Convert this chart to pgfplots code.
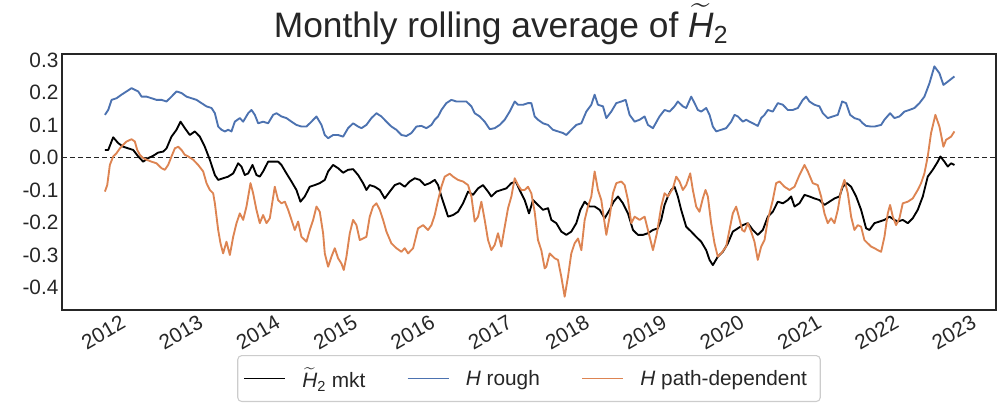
\documentclass[border=0pt]{standalone}
\usepackage{amsmath}
\usepackage{fontspec}
\setmainfont{Liberation Sans}
\usepackage{pgfplots}
\pgfplotsset{compat=1.18}
\definecolor{sblue}{HTML}{4C72B0}
\definecolor{sorange}{HTML}{DD8452}
\definecolor{dgray}{HTML}{262626}
\definecolor{lgray}{HTML}{CCCCCC}
\newcommand{\Ht}{$\widetilde{\text{\itshape H}}_{\text{2}}$}
\begin{document}
\begin{tikzpicture}[x=1pt,y=1pt]
\path[use as bounding box] (-46.5,-75.75) rectangle (705,232.5);
\begin{axis}[
  at={(0,0)}, anchor=south west,
  width=700.5pt, height=192pt, scale only axis,
  xmin=2011.2, xmax=2023.28, ymin=-0.469, ymax=0.318,
  axis line style={dgray, line width=1pt},
  major tick length=0pt,
  xtick={2012,2013,2014,2015,2016,2017,2018,2019,2020,2021,2022,2023},
  xticklabels={2012,2013,2014,2015,2016,2017,2018,2019,2020,2021,2022,2023},
  ytick={-0.4,-0.3,-0.2,-0.1,0,0.1,0.2,0.3},
  yticklabels={-0.4,-0.3,-0.2,-0.1,0.0,0.1,0.2,0.3},
  tick label style={font=\fontsize{15.6}{18}\selectfont, text=dgray},
  yticklabel style={inner sep=0pt, xshift=-2.5pt},
  xticklabel style={xshift=-3pt, yshift=-3pt, rotate=30, anchor=north east, inner sep=0pt},
  title={Monthly rolling average of \Ht},
  title style={font=\fontsize{26.5}{30}\selectfont, text=dgray, at={(0.5,1)}, anchor=base, xshift=-21pt, yshift=6.5pt},
  legend columns=3,
  legend style={at={(0.5,-0.176)}, anchor=north, draw=lgray, fill=white, line width=0.8pt,
    rounded corners=3pt, font=\fontsize{15.6}{18}\selectfont, text=dgray,
    inner xsep=4pt, inner ysep=7pt,
    nodes={inner xsep=6pt, inner ysep=2pt},
    /tikz/every even column/.append style={column sep=25pt}},
  legend cell align=left,
  legend image code/.code={\draw[#1] (0pt,0pt) -- (31pt,0pt); \path (37pt,0pt);},
  every axis plot/.append style={line width=1.4pt, line join=round},
]
\addplot[forget plot, dgray, line width=0.9pt, dash pattern=on 4pt off 2pt] coordinates {(2011.2,0) (2023.28,0)};
\addplot[black] table {
2011.755 0.023
2011.798 0.023
2011.862 0.062
2011.927 0.044
2011.992 0.033
2012.056 0.028
2012.121 0.023
2012.186 0.003
2012.250 -0.013
2012.315 -0.002
2012.379 0.005
2012.444 0.015
2012.509 0.018
2012.552 0.028
2012.616 0.064
2012.681 0.085
2012.733 0.110
2012.789 0.090
2012.853 0.069
2012.918 0.080
2012.983 0.064
2013.047 0.033
2013.112 -0.007
2013.177 -0.054
2013.220 -0.069
2013.284 -0.064
2013.349 -0.059
2013.414 -0.049
2013.478 -0.018
2013.521 -0.028
2013.564 -0.054
2013.608 -0.049
2013.664 -0.023
2013.715 -0.054
2013.758 -0.059
2013.801 -0.043
2013.866 -0.013
2013.931 -0.013
2013.995 -0.013
2014.038 -0.023
2014.103 -0.049
2014.168 -0.074
2014.232 -0.100
2014.284 -0.136
2014.340 -0.120
2014.405 -0.090
2014.469 -0.085
2014.534 -0.079
2014.599 -0.069
2014.642 -0.043
2014.706 -0.023
2014.771 -0.033
2014.836 -0.047
2014.900 -0.038
2014.965 -0.036
2015.030 -0.054
2015.094 -0.079
2015.137 -0.100
2015.180 -0.085
2015.245 -0.090
2015.310 -0.100
2015.374 -0.126
2015.439 -0.105
2015.504 -0.085
2015.568 -0.079
2015.633 -0.090
2015.697 -0.074
2015.762 -0.064
2015.827 -0.069
2015.891 -0.085
2015.956 -0.079
2016.021 -0.069
2016.064 -0.085
2016.107 -0.120
2016.150 -0.151
2016.193 -0.182
2016.258 -0.177
2016.322 -0.167
2016.387 -0.141
2016.452 -0.105
2016.516 -0.115
2016.581 -0.095
2016.645 -0.085
2016.710 -0.105
2016.753 -0.120
2016.818 -0.105
2016.882 -0.100
2016.947 -0.095
2017.012 -0.079
2017.068 -0.074
2017.119 -0.100
2017.184 -0.131
2017.240 -0.172
2017.292 -0.131
2017.356 -0.146
2017.421 -0.161
2017.486 -0.156
2017.529 -0.192
2017.593 -0.202
2017.658 -0.228
2017.723 -0.238
2017.787 -0.228
2017.852 -0.202
2017.904 -0.161
2017.960 -0.136
2018.024 -0.151
2018.089 -0.151
2018.154 -0.161
2018.218 -0.187
2018.283 -0.161
2018.335 -0.136
2018.391 -0.120
2018.455 -0.141
2018.520 -0.172
2018.585 -0.223
2018.649 -0.238
2018.714 -0.238
2018.778 -0.233
2018.843 -0.223
2018.907 -0.218
2018.950 -0.192
2018.993 -0.146
2019.036 -0.120
2019.079 -0.100
2019.122 -0.090
2019.165 -0.120
2019.208 -0.161
2019.273 -0.213
2019.338 -0.228
2019.402 -0.244
2019.467 -0.259
2019.532 -0.285
2019.575 -0.315
2019.618 -0.331
2019.682 -0.305
2019.747 -0.290
2019.812 -0.264
2019.876 -0.228
2019.941 -0.218
2020.006 -0.208
2020.070 -0.202
2020.135 -0.223
2020.199 -0.238
2020.264 -0.223
2020.329 -0.182
2020.393 -0.167
2020.458 -0.136
2020.523 -0.141
2020.587 -0.131
2020.630 -0.120
2020.674 -0.151
2020.738 -0.141
2020.803 -0.115
2020.867 -0.120
2020.932 -0.126
2020.997 -0.131
2021.061 -0.146
2021.126 -0.136
2021.191 -0.126
2021.255 -0.120
2021.298 -0.090
2021.350 -0.079
2021.406 -0.090
2021.471 -0.120
2021.535 -0.161
2021.600 -0.218
2021.643 -0.223
2021.708 -0.202
2021.773 -0.197
2021.837 -0.192
2021.902 -0.182
2021.966 -0.192
2022.010 -0.197
2022.074 -0.192
2022.139 -0.202
2022.203 -0.187
2022.268 -0.161
2022.333 -0.120
2022.397 -0.059
2022.462 -0.038
2022.527 -0.013
2022.561 0.003
2022.613 -0.013
2022.656 -0.028
2022.699 -0.018
2022.742 -0.023
};
\addlegendentry{\Ht\ mkt}
\addplot[sblue] table {
2011.755 0.131
2011.798 0.146
2011.841 0.177
2011.905 0.182
2011.970 0.193
2012.035 0.203
2012.099 0.213
2012.142 0.208
2012.186 0.203
2012.229 0.187
2012.293 0.187
2012.358 0.182
2012.423 0.177
2012.487 0.177
2012.552 0.172
2012.616 0.187
2012.681 0.203
2012.746 0.198
2012.810 0.187
2012.875 0.182
2012.940 0.177
2013.004 0.167
2013.069 0.157
2013.134 0.152
2013.177 0.136
2013.220 0.095
2013.263 0.085
2013.306 0.080
2013.349 0.085
2013.392 0.080
2013.435 0.110
2013.500 0.121
2013.543 0.110
2013.608 0.136
2013.651 0.146
2013.694 0.131
2013.737 0.105
2013.801 0.110
2013.866 0.105
2013.931 0.131
2013.974 0.136
2014.038 0.126
2014.103 0.121
2014.168 0.110
2014.232 0.100
2014.297 0.095
2014.362 0.095
2014.426 0.110
2014.491 0.126
2014.556 0.100
2014.599 0.069
2014.642 0.059
2014.706 0.069
2014.771 0.069
2014.836 0.064
2014.900 0.090
2014.965 0.105
2015.030 0.095
2015.073 0.090
2015.137 0.100
2015.202 0.121
2015.267 0.136
2015.331 0.126
2015.396 0.110
2015.460 0.095
2015.525 0.085
2015.590 0.069
2015.654 0.066
2015.719 0.075
2015.784 0.095
2015.848 0.097
2015.913 0.090
2015.978 0.100
2016.021 0.116
2016.064 0.126
2016.107 0.146
2016.171 0.167
2016.236 0.177
2016.301 0.172
2016.365 0.172
2016.430 0.172
2016.495 0.157
2016.538 0.136
2016.602 0.126
2016.667 0.110
2016.732 0.087
2016.796 0.090
2016.861 0.100
2016.926 0.116
2016.990 0.141
2017.055 0.172
2017.098 0.162
2017.163 0.162
2017.227 0.167
2017.270 0.167
2017.313 0.126
2017.356 0.116
2017.421 0.105
2017.486 0.100
2017.550 0.085
2017.615 0.080
2017.680 0.075
2017.723 0.069
2017.787 0.085
2017.852 0.100
2017.917 0.105
2017.981 0.141
2018.046 0.162
2018.089 0.193
2018.132 0.162
2018.197 0.157
2018.240 0.121
2018.304 0.141
2018.369 0.167
2018.434 0.172
2018.490 0.177
2018.541 0.131
2018.606 0.110
2018.671 0.116
2018.735 0.126
2018.778 0.100
2018.843 0.090
2018.928 0.126
2018.993 0.146
2019.058 0.141
2019.122 0.157
2019.165 0.172
2019.230 0.157
2019.273 0.152
2019.338 0.187
2019.381 0.167
2019.424 0.146
2019.467 0.141
2019.532 0.152
2019.575 0.131
2019.618 0.095
2019.661 0.080
2019.725 0.085
2019.790 0.090
2019.855 0.110
2019.898 0.131
2019.941 0.126
2020.006 0.110
2020.049 0.116
2020.092 0.110
2020.135 0.105
2020.199 0.097
2020.243 0.121
2020.286 0.131
2020.329 0.146
2020.393 0.141
2020.458 0.167
2020.523 0.162
2020.587 0.146
2020.652 0.146
2020.717 0.152
2020.781 0.177
2020.824 0.187
2020.867 0.172
2020.932 0.162
2020.997 0.157
2021.040 0.136
2021.104 0.121
2021.169 0.126
2021.234 0.131
2021.290 0.172
2021.341 0.167
2021.393 0.131
2021.449 0.121
2021.514 0.116
2021.557 0.105
2021.600 0.097
2021.664 0.095
2021.708 0.095
2021.794 0.100
2021.837 0.116
2021.910 0.136
2021.966 0.121
2022.031 0.126
2022.096 0.141
2022.160 0.146
2022.225 0.152
2022.290 0.167
2022.354 0.187
2022.419 0.228
2022.483 0.280
2022.548 0.259
2022.600 0.223
2022.656 0.233
2022.742 0.249
};
\addlegendentry{{\itshape H} rough}
\addplot[sorange] table {
2011.755 -0.105
2011.785 -0.085
2011.819 -0.023
2011.862 0.003
2011.905 0.013
2011.949 0.028
2011.992 0.039
2012.035 0.049
2012.099 0.056
2012.142 0.049
2012.173 0.023
2012.207 0.008
2012.250 -0.002
2012.293 -0.007
2012.358 -0.013
2012.423 -0.018
2012.487 -0.033
2012.530 -0.038
2012.573 -0.023
2012.616 0.003
2012.660 0.028
2012.703 0.033
2012.746 0.023
2012.789 0.008
2012.832 0.003
2012.897 -0.007
2012.961 -0.023
2013.026 -0.043
2013.069 -0.079
2013.112 -0.100
2013.155 -0.110
2013.177 -0.141
2013.220 -0.223
2013.250 -0.264
2013.284 -0.295
2013.327 -0.259
2013.371 -0.300
2013.414 -0.244
2013.457 -0.202
2013.500 -0.172
2013.543 -0.192
2013.586 -0.151
2013.638 -0.079
2013.672 -0.110
2013.715 -0.161
2013.758 -0.202
2013.801 -0.177
2013.845 -0.202
2013.888 -0.187
2013.952 -0.090
2013.995 -0.131
2014.038 -0.141
2014.082 -0.136
2014.125 -0.161
2014.168 -0.192
2014.211 -0.223
2014.254 -0.197
2014.297 -0.244
2014.362 -0.259
2014.405 -0.223
2014.448 -0.192
2014.491 -0.151
2014.534 -0.167
2014.577 -0.233
2014.599 -0.295
2014.642 -0.336
2014.685 -0.305
2014.728 -0.279
2014.771 -0.310
2014.814 -0.326
2014.844 -0.346
2014.879 -0.305
2014.922 -0.233
2014.965 -0.192
2015.008 -0.208
2015.051 -0.254
2015.094 -0.249
2015.137 -0.244
2015.180 -0.182
2015.223 -0.151
2015.267 -0.141
2015.310 -0.161
2015.353 -0.192
2015.396 -0.228
2015.460 -0.264
2015.525 -0.279
2015.590 -0.290
2015.633 -0.279
2015.676 -0.295
2015.741 -0.279
2015.805 -0.218
2015.870 -0.208
2015.934 -0.223
2015.978 -0.208
2016.021 -0.177
2016.064 -0.131
2016.107 -0.090
2016.150 -0.059
2016.215 -0.050
2016.258 -0.059
2016.322 -0.069
2016.387 -0.074
2016.452 -0.085
2016.495 -0.120
2016.538 -0.197
2016.581 -0.182
2016.624 -0.136
2016.667 -0.192
2016.710 -0.254
2016.753 -0.285
2016.796 -0.269
2016.839 -0.233
2016.882 -0.274
2016.926 -0.213
2016.969 -0.156
2017.012 -0.120
2017.055 -0.064
2017.098 -0.085
2017.141 -0.100
2017.184 -0.100
2017.227 -0.090
2017.270 -0.110
2017.313 -0.167
2017.356 -0.254
2017.399 -0.285
2017.443 -0.341
2017.464 -0.336
2017.507 -0.295
2017.572 -0.310
2017.615 -0.315
2017.658 -0.367
2017.701 -0.428
2017.744 -0.367
2017.787 -0.295
2017.830 -0.264
2017.874 -0.249
2017.917 -0.285
2017.960 -0.192
2018.003 -0.151
2018.046 -0.120
2018.089 -0.043
2018.132 -0.100
2018.175 -0.131
2018.218 -0.202
2018.240 -0.238
2018.283 -0.182
2018.326 -0.110
2018.369 -0.079
2018.434 -0.074
2018.477 -0.085
2018.520 -0.131
2018.563 -0.202
2018.606 -0.182
2018.671 -0.192
2018.735 -0.182
2018.778 -0.223
2018.843 -0.285
2018.894 -0.233
2018.950 -0.151
2018.993 -0.110
2019.036 -0.120
2019.101 -0.095
2019.144 -0.059
2019.187 -0.074
2019.230 -0.100
2019.273 -0.085
2019.325 -0.049
2019.359 -0.100
2019.402 -0.151
2019.445 -0.167
2019.488 -0.126
2019.523 -0.100
2019.553 -0.120
2019.596 -0.202
2019.639 -0.264
2019.682 -0.305
2019.725 -0.295
2019.790 -0.274
2019.833 -0.223
2019.876 -0.172
2019.919 -0.151
2019.954 -0.182
2019.997 -0.223
2020.027 -0.228
2020.070 -0.202
2020.113 -0.228
2020.156 -0.259
2020.199 -0.315
2020.243 -0.274
2020.286 -0.254
2020.329 -0.192
2020.393 -0.131
2020.436 -0.079
2020.480 -0.074
2020.544 -0.090
2020.609 -0.100
2020.674 -0.090
2020.738 -0.054
2020.803 -0.023
2020.846 -0.043
2020.910 -0.079
2020.975 -0.085
2021.018 -0.120
2021.061 -0.172
2021.104 -0.202
2021.147 -0.187
2021.191 -0.202
2021.234 -0.161
2021.277 -0.100
2021.320 -0.069
2021.363 -0.110
2021.406 -0.182
2021.449 -0.223
2021.492 -0.208
2021.535 -0.213
2021.578 -0.254
2021.621 -0.264
2021.664 -0.274
2021.708 -0.279
2021.751 -0.285
2021.794 -0.290
2021.837 -0.244
2021.880 -0.172
2021.910 -0.146
2021.945 -0.182
2021.988 -0.208
2022.031 -0.187
2022.074 -0.141
2022.139 -0.136
2022.203 -0.126
2022.268 -0.100
2022.311 -0.079
2022.354 -0.049
2022.397 0.003
2022.440 0.075
2022.496 0.131
2022.548 0.095
2022.600 0.033
2022.634 0.054
2022.699 0.064
2022.742 0.080
};
\addlegendentry{{\itshape H} path-dependent}
\end{axis}
\end{tikzpicture}
\end{document}
